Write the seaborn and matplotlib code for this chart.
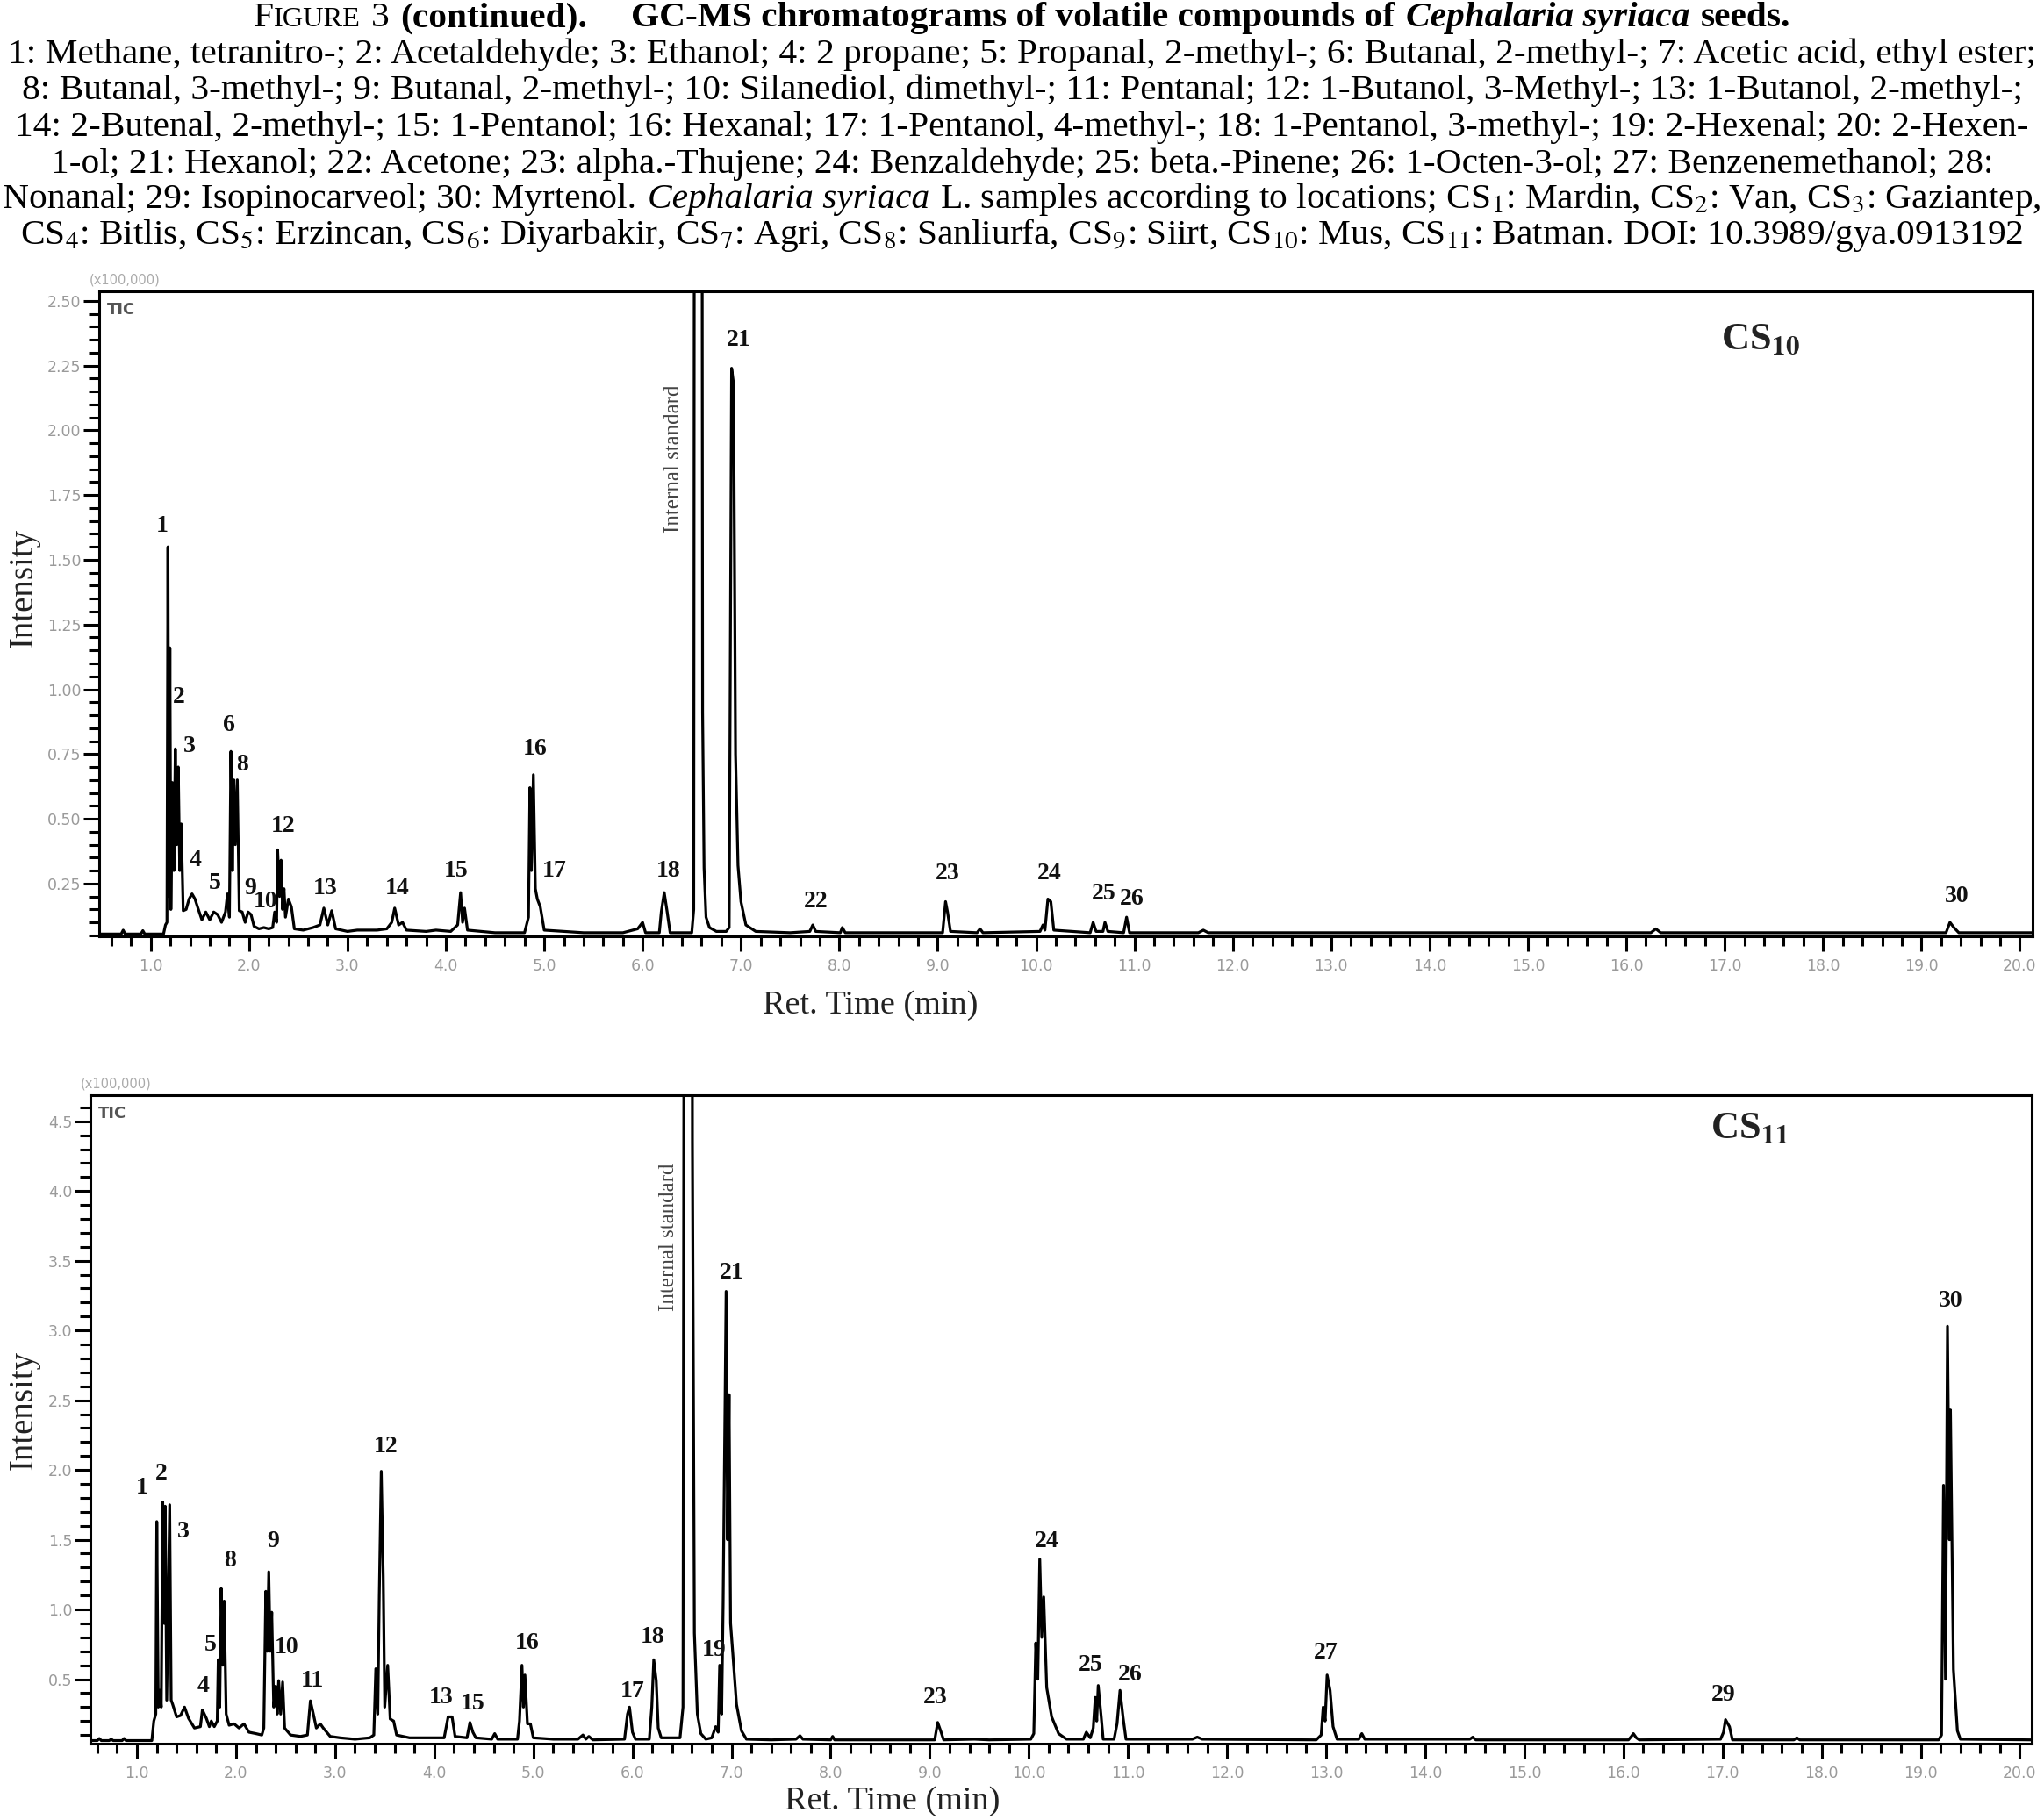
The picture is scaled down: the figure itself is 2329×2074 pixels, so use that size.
import matplotlib
matplotlib.use("Agg")
import matplotlib.pyplot as plt
import pandas as pd
import seaborn as sns
from matplotlib.ticker import MultipleLocator, FormatStrFormatter

# ---- data (intensity in x100,000) ----
# CS10 (Mus) trace: retention time (min) and intensity
cs10_rt = [0.48, 0.70, 0.72, 0.74, 0.90, 0.92, 0.94, 1.13, 1.15, 1.165, 1.175, 1.185,
           1.195, 1.205, 1.22, 1.235, 1.25, 1.265, 1.28, 1.295, 1.31, 1.33, 1.36, 1.39,
           1.42, 1.45, 1.48, 1.52, 1.56, 1.60, 1.64, 1.68, 1.72, 1.76, 1.78, 1.80,
           1.815, 1.83, 1.845, 1.86, 1.88, 1.90, 1.93, 1.96, 1.99, 2.02, 2.05, 2.10,
           2.15, 2.20, 2.24, 2.26, 2.28, 2.29, 2.31, 2.325, 2.34, 2.355, 2.37, 2.40,
           2.43, 2.46, 2.55, 2.65, 2.72, 2.76, 2.80, 2.84, 2.88, 3.00, 3.10, 3.30,
           3.40, 3.45, 3.48, 3.52, 3.56, 3.60, 3.80, 3.90, 4.05, 4.12, 4.15, 4.17,
           4.19, 4.22, 4.50, 4.80, 4.84, 4.855, 4.87, 4.89, 4.91, 4.93, 4.96, 5.00,
           5.20, 5.40, 5.80, 5.95, 6.00, 6.03, 6.17, 6.19, 6.22, 6.25, 6.28, 6.50,
           6.52, 6.53, 6.60, 6.61, 6.625, 6.645, 6.68, 6.75, 6.85, 6.88, 6.905, 6.925,
           6.945, 6.97, 7.00, 7.05, 7.15, 7.50, 7.70, 7.73, 7.76, 8.01, 8.03, 8.06,
           9.05, 9.08, 9.10, 9.13, 9.40, 9.43, 9.46, 10.04, 10.07, 10.09, 10.12, 10.15,
           10.18, 10.55, 10.58, 10.61, 10.68, 10.70, 10.73, 10.89, 10.92, 10.95, 11.65, 11.70,
           11.75, 16.25, 16.30, 16.35, 19.25, 19.29, 19.33, 19.38, 20.13]
cs10_int = [0.055, 0.055, 0.07, 0.055, 0.055, 0.068, 0.055, 0.055, 0.09, 0.10, 1.55, 0.20,
            1.16, 0.15, 0.64, 0.30, 0.77, 0.40, 0.70, 0.30, 0.48, 0.145, 0.15, 0.19,
            0.21, 0.19, 0.155, 0.11, 0.14, 0.11, 0.14, 0.13, 0.10, 0.14, 0.21, 0.12,
            0.76, 0.30, 0.65, 0.40, 0.65, 0.145, 0.14, 0.10, 0.14, 0.13, 0.085, 0.075,
            0.08, 0.075, 0.08, 0.14, 0.10, 0.38, 0.20, 0.34, 0.15, 0.23, 0.12, 0.19,
            0.16, 0.075, 0.07, 0.08, 0.09, 0.155, 0.09, 0.145, 0.075, 0.065, 0.07, 0.07,
            0.075, 0.10, 0.155, 0.09, 0.10, 0.07, 0.065, 0.07, 0.065, 0.09, 0.215, 0.10,
            0.155, 0.07, 0.06, 0.06, 0.12, 0.62, 0.30, 0.67, 0.23, 0.19, 0.16, 0.07,
            0.065, 0.06, 0.06, 0.075, 0.10, 0.06, 0.06, 0.14, 0.215, 0.14, 0.06, 0.06,
            0.15, 5.0, 5.0, 0.91, 0.31, 0.12, 0.08, 0.065, 0.065, 0.08, 2.24, 2.18,
            0.75, 0.32, 0.18, 0.09, 0.065, 0.06, 0.065, 0.09, 0.065, 0.06, 0.08, 0.06,
            0.06, 0.18, 0.14, 0.065, 0.06, 0.075, 0.06, 0.065, 0.09, 0.07, 0.19, 0.18,
            0.07, 0.06, 0.10, 0.065, 0.065, 0.10, 0.065, 0.06, 0.12, 0.06, 0.06, 0.07,
            0.06, 0.06, 0.075, 0.06, 0.06, 0.10, 0.08, 0.06, 0.06]

# CS10 identified peaks (compound number, apex time, apex intensity)
cs10_peak_no = ["1", "2", "3", "4", "5", "6", "8", "9", "10", "12", "13", "14",
                "15", "16", "17", "18", "21", "22", "23", "24", "25", "26", "30"]
cs10_peak_rt = [1.175, 1.195, 1.25, 1.42, 1.64, 1.815, 1.88, 1.99, 2.15, 2.29, 2.76, 3.48,
                4.15, 4.89, 4.96, 6.22, 6.905, 7.73, 9.08, 10.12, 10.70, 10.92, 19.29]
cs10_peak_int = [1.55, 1.16, 0.77, 0.21, 0.14, 0.76, 0.65, 0.14, 0.08, 0.38, 0.155, 0.155,
                 0.215, 0.67, 0.16, 0.215, 2.24, 0.09, 0.18, 0.19, 0.10, 0.12, 0.10]

# CS11 (Batman) trace
cs11_rt = [0.53, 0.60, 0.62, 0.64, 0.72, 0.74, 0.76, 0.85, 0.87, 0.89, 1.15, 1.17,
           1.19, 1.20, 1.215, 1.23, 1.245, 1.26, 1.275, 1.285, 1.30, 1.33, 1.345, 1.36,
           1.40, 1.44, 1.48, 1.52, 1.58, 1.64, 1.66, 1.70, 1.73, 1.75, 1.78, 1.81,
           1.82, 1.835, 1.85, 1.865, 1.88, 1.90, 1.93, 1.98, 2.03, 2.08, 2.13, 2.20,
           2.26, 2.28, 2.30, 2.315, 2.33, 2.345, 2.36, 2.38, 2.40, 2.415, 2.43, 2.45,
           2.47, 2.49, 2.55, 2.65, 2.72, 2.75, 2.78, 2.81, 2.85, 2.88, 2.95, 3.05,
           3.20, 3.35, 3.39, 3.41, 3.43, 3.445, 3.465, 3.485, 3.50, 3.53, 3.555, 3.59,
           3.62, 3.75, 3.90, 4.10, 4.14, 4.18, 4.21, 4.33, 4.36, 4.39, 4.42, 4.58,
           4.61, 4.64, 4.84, 4.86, 4.885, 4.90, 4.915, 4.94, 4.97, 5.00, 5.20, 5.45,
           5.50, 5.53, 5.56, 5.60, 5.92, 5.95, 5.97, 6.00, 6.03, 6.17, 6.195, 6.215,
           6.24, 6.26, 6.29, 6.48, 6.51, 6.525, 6.60, 6.605, 6.625, 6.655, 6.69, 6.74,
           6.80, 6.84, 6.865, 6.88, 6.90, 6.915, 6.945, 6.96, 6.975, 6.99, 7.01, 7.05,
           7.10, 7.15, 7.40, 7.65, 7.69, 7.72, 8.00, 8.02, 8.04, 8.60, 9.05, 9.08,
           9.11, 9.14, 9.45, 9.60, 10.02, 10.05, 10.07, 10.09, 10.11, 10.13, 10.15, 10.18,
           10.23, 10.30, 10.38, 10.55, 10.58, 10.62, 10.65, 10.67, 10.685, 10.70, 10.73, 10.75,
           10.86, 10.89, 10.92, 10.95, 10.98, 11.65, 11.70, 11.75, 12.90, 12.95, 12.97, 12.99,
           13.01, 13.04, 13.07, 13.11, 13.33, 13.36, 13.39, 14.45, 14.48, 14.51, 16.05, 16.08,
           16.10, 16.13, 16.16, 16.98, 17.01, 17.03, 17.07, 17.10, 17.72, 17.75, 17.78, 19.18,
           19.21, 19.23, 19.25, 19.27, 19.29, 19.30, 19.33, 19.37, 19.40, 20.12]
cs11_int = [0.06, 0.06, 0.075, 0.06, 0.06, 0.07, 0.06, 0.06, 0.075, 0.06, 0.06, 0.20,
            0.25, 1.63, 0.30, 0.42, 0.30, 1.77, 0.90, 1.74, 0.35, 1.75, 0.35, 0.32,
            0.23, 0.24, 0.30, 0.22, 0.15, 0.16, 0.28, 0.22, 0.16, 0.20, 0.16, 0.20,
            0.64, 0.30, 1.15, 0.60, 1.06, 0.25, 0.17, 0.18, 0.15, 0.18, 0.12, 0.11,
            0.10, 0.15, 1.13, 0.70, 1.27, 0.70, 0.98, 0.30, 0.45, 0.25, 0.49, 0.25,
            0.48, 0.15, 0.10, 0.09, 0.10, 0.345, 0.25, 0.15, 0.18, 0.15, 0.09, 0.08,
            0.07, 0.08, 0.10, 0.575, 0.25, 1.10, 1.99, 1.24, 0.30, 0.60, 0.215, 0.20,
            0.10, 0.08, 0.08, 0.08, 0.23, 0.23, 0.09, 0.08, 0.19, 0.12, 0.08, 0.07,
            0.11, 0.07, 0.07, 0.20, 0.60, 0.30, 0.53, 0.18, 0.18, 0.08, 0.07, 0.07,
            0.10, 0.07, 0.09, 0.065, 0.07, 0.25, 0.30, 0.12, 0.07, 0.07, 0.30, 0.64,
            0.49, 0.15, 0.08, 0.08, 0.30, 8.0, 8.0, 4.35, 0.83, 0.25, 0.11, 0.07,
            0.08, 0.16, 0.12, 0.60, 0.25, 1.05, 3.28, 1.50, 2.54, 0.90, 0.71, 0.32,
            0.13, 0.07, 0.065, 0.07, 0.095, 0.07, 0.065, 0.09, 0.065, 0.065, 0.065, 0.19,
            0.13, 0.065, 0.07, 0.065, 0.07, 0.11, 0.76, 0.50, 1.36, 0.80, 1.09, 0.44,
            0.23, 0.11, 0.07, 0.07, 0.12, 0.08, 0.15, 0.37, 0.20, 0.455, 0.23, 0.07,
            0.07, 0.18, 0.42, 0.23, 0.07, 0.07, 0.085, 0.07, 0.065, 0.10, 0.30, 0.20,
            0.53, 0.42, 0.16, 0.07, 0.07, 0.11, 0.07, 0.07, 0.085, 0.065, 0.065, 0.09,
            0.11, 0.08, 0.065, 0.07, 0.12, 0.21, 0.16, 0.065, 0.065, 0.08, 0.065, 0.065,
            0.10, 1.89, 0.50, 3.03, 1.50, 2.43, 0.57, 0.13, 0.07, 0.065]

cs11_peak_no = ["1", "2", "3", "4", "5", "8", "9", "10", "11", "12", "13", "15",
                "16", "17", "18", "19", "21", "23", "24", "25", "26", "27", "29", "30"]
cs11_peak_rt = [1.20, 1.26, 1.33, 1.66, 1.82, 1.85, 2.33, 2.43, 2.75, 3.465, 4.16, 4.36,
                4.885, 5.97, 6.215, 6.88, 6.945, 9.08, 10.11, 10.70, 10.92, 13.01, 17.03, 19.27]
cs11_peak_int = [1.63, 1.77, 1.75, 0.28, 0.64, 1.15, 1.27, 0.49, 0.345, 1.99, 0.23, 0.19,
                 0.60, 0.30, 0.64, 0.60, 3.28, 0.19, 1.36, 0.455, 0.42, 0.53, 0.21, 3.03]

caption_lines = [
    "1: Methane, tetranitro-; 2: Acetaldehyde; 3: Ethanol; 4: 2 propane; 5: Propanal, 2-methyl-; 6: Butanal, 2-methyl-; 7: Acetic acid, ethyl ester;",
    "8: Butanal, 3-methyl-; 9: Butanal, 2-methyl-; 10: Silanediol, dimethyl-; 11: Pentanal; 12: 1-Butanol, 3-Methyl-; 13: 1-Butanol, 2-methyl-;",
    "14: 2-Butenal, 2-methyl-; 15: 1-Pentanol; 16: Hexanal; 17: 1-Pentanol, 4-methyl-; 18: 1-Pentanol, 3-methyl-; 19: 2-Hexenal; 20: 2-Hexen-",
    "1-ol; 21: Hexanol; 22: Acetone; 23: alpha.-Thujene; 24: Benzaldehyde; 25: beta.-Pinene; 26: 1-Octen-3-ol; 27: Benzenemethanol; 28:",
]

# ---- layout / style ----
W, H, DPI = 2329, 2074, 100
SERIF = ["Liberation Serif", "DejaVu Serif"]
TICK_GREY = "#9a9a9a"

sns.set_theme(style="ticks")
plt.rcParams["font.family"] = ["DejaVu Sans"]
plt.rcParams["mathtext.fontset"] = "stix"

fig = plt.figure(figsize=(W / DPI, H / DPI), dpi=DPI)
renderer = fig.canvas.get_renderer()

# label nudges (dx in min, dy in intensity) relative to the peak apex
cs10_nudge = {"1": (-0.055, 0.08), "2": (0.095, -0.19), "3": (0.14, 0.01), "4": (0.03, 0.13),
              "5": (0.01, 0.11), "6": (-0.015, 0.10), "8": (0.05, 0.06), "9": (0.025, 0.09),
              "10": (0.02, 0.10), "12": (0.06, 0.09), "13": (0.01, 0.075), "14": (0.03, 0.075),
              "15": (-0.05, 0.085), "16": (0.02, 0.10), "17": (0.14, 0.14), "18": (0.04, 0.085),
              "21": (0.075, 0.11), "22": (0.03, 0.09), "23": (0.02, 0.11), "24": (0.02, 0.10),
              "25": (-0.01, 0.11), "26": (0.05, 0.07), "30": (0.07, 0.10)}
cs11_nudge = {"1": (-0.15, 0.24), "2": (-0.015, 0.20), "3": (0.14, -0.19), "4": (0.01, 0.17),
              "5": (-0.08, 0.105), "8": (0.09, 0.20), "9": (0.04, 0.22), "10": (0.08, 0.24),
              "11": (0.02, 0.145), "12": (0.045, 0.18), "13": (-0.09, 0.14), "15": (0.03, 0.135),
              "16": (0.055, 0.16), "17": (0.03, 0.11), "18": (-0.015, 0.16), "19": (-0.06, 0.11),
              "21": (0.055, 0.13), "23": (-0.02, 0.18), "24": (0.07, 0.13), "25": (-0.08, 0.145),
              "26": (0.10, 0.11), "27": (-0.01, 0.16), "29": (-0.02, 0.18), "30": (0.03, 0.18)}


def draw_panel(ax, rt, inten, peak_no, peak_rt, peak_int, nudge, xlim, ylim,
               ymajor, yminor, yfmt, sample_label, cs_pos, is_pos, xlab_xy, ylab_xy):
    df = pd.DataFrame({"Ret. Time (min)": rt, "Intensity": inten})
    sns.lineplot(data=df, x="Ret. Time (min)", y="Intensity", ax=ax, color="black",
                 linewidth=2.3, sort=False, estimator=None)
    ax.set_xlim(*xlim)
    ax.set_ylim(*ylim)
    ax.xaxis.set_major_locator(MultipleLocator(1.0))
    ax.xaxis.set_minor_locator(MultipleLocator(0.2))
    ax.yaxis.set_major_locator(MultipleLocator(ymajor))
    ax.yaxis.set_minor_locator(MultipleLocator(yminor))
    ax.xaxis.set_major_formatter(FormatStrFormatter("%.1f"))
    ax.yaxis.set_major_formatter(FormatStrFormatter(yfmt))
    ax.tick_params(which="both", direction="out", color="black", top=False, right=False)
    ax.tick_params(axis="x", which="major", length=12, width=2.2, pad=6,
                   labelsize=12.5, labelcolor=TICK_GREY)
    ax.tick_params(axis="x", which="minor", length=8, width=2.2)
    ax.tick_params(axis="y", which="major", length=13, width=2.2, pad=2,
                   labelsize=12.5, labelcolor=TICK_GREY)
    ax.tick_params(axis="y", which="minor", length=9, width=2.2)
    for s in ax.spines.values():
        s.set_linewidth(2.2)
        s.set_color("black")
        s.set_visible(True)

    ax.set_xlabel("Ret. Time (min)", family=SERIF, fontsize=27.5, color="#222222")
    ax.set_ylabel("Intensity", family=SERIF, fontsize=28, color="#222222")
    ax.xaxis.set_label_coords(*xlab_xy)
    ax.yaxis.set_label_coords(*ylab_xy)

    for no, t, h in zip(peak_no, peak_rt, peak_int):
        dx, dy = nudge[no]
        ax.text(t + dx, h + dy, no, ha="center", va="center", family=SERIF,
                fontweight="bold", fontsize=20, color="#111111")

    ax.text(is_pos[0], is_pos[1], "Internal standard", rotation=90, ha="center",
            va="center", family=SERIF, fontsize=18, color="#444444")
    ax.text(cs_pos[0], cs_pos[1], sample_label, ha="center", va="center",
            family=SERIF, fontweight="bold", fontsize=32, color="#222222")
    ax.text(0.004, 0.972, "TIC", transform=ax.transAxes, ha="left", va="center",
            fontsize=13, fontweight="bold", color="#555555")
    ax.text(-0.005, 1.008, "(x100,000)", transform=ax.transAxes, ha="left",
            va="bottom", fontsize=10.5, color="#aaaaaa")


ax_top = fig.add_axes([113 / W, 1 - 1067 / H, (2316 - 113) / W, (1067 - 332) / H])
ax_bot = fig.add_axes([103 / W, 1 - 1987 / H, (2315 - 103) / W, (1987 - 1248) / H])

draw_panel(ax_top, cs10_rt, cs10_int, cs10_peak_no, cs10_peak_rt, cs10_peak_int, cs10_nudge,
           (0.476, 20.13), (0.046, 2.537), 0.25, 0.05, "%.2f",
           r"CS$_{\mathbf{10}}$", (17.36, 2.35), (6.32, 1.89), (0.399, -0.084), (-0.0304, 0.54))
draw_panel(ax_bot, cs11_rt, cs11_int, cs11_peak_no, cs11_peak_rt, cs11_peak_int, cs11_nudge,
           (0.53, 20.12), (0.038, 4.687), 0.5, 0.1, "%.1f",
           r"CS$_{\mathbf{11}}$", (17.27, 4.45), (6.37, 3.67), (0.413, -0.065), (-0.0258, 0.514))

# ---- caption ----
probe = fig.text(0, 0, caption_lines[0], fontsize=27, family=SERIF)
cap_size = 27 * 2312 / probe.get_window_extent(renderer).width
probe.remove()


def put_caption(y_base, parts):
    objs, widths, gaps = [], [], []
    for text, weight, style, scale, gap in parts:
        o = fig.text(0, 1 - y_base / H, text, fontsize=cap_size * scale, fontweight=weight,
                     fontstyle=style, family=SERIF, ha="left", va="baseline", color="black")
        objs.append(o)
        widths.append(o.get_window_extent(renderer).width)
        gaps.append(gap * 0.3 * cap_size * DPI / 72)
    x = (W - sum(widths) - sum(gaps[:-1])) / 2
    for o, w, g in zip(objs, widths, gaps):
        o.set_x(x / W)
        x += w + g


put_caption(30, [("F", "normal", "normal", 1.0, 0), ("IGURE", "normal", "normal", 0.78, 1),
                 ("3", "normal", "normal", 1.0, 1), ("(continued).", "bold", "normal", 1.0, 4),
                 ("GC-MS chromatograms of volatile compounds of", "bold", "normal", 1.0, 1),
                 ("Cephalaria syriaca", "bold", "italic", 1.0, 1), ("seeds.", "bold", "normal", 1.0, 0)])
for yb, line in zip([72, 113, 155, 197], caption_lines):
    put_caption(yb, [(line, "normal", "normal", 1.0, 0)])
put_caption(237, [("Nonanal; 29: Isopinocarveol; 30: Myrtenol.", "normal", "normal", 1.0, 1),
                  ("Cephalaria syriaca", "normal", "italic", 1.0, 1),
                  (r"L. samples according to locations; CS$_{\mathrm{1}}$: Mardin, CS$_{\mathrm{2}}$: Van, "
                   r"CS$_{\mathrm{3}}$: Gaziantep,", "normal", "normal", 1.0, 0)])
put_caption(278, [(r"CS$_{\mathrm{4}}$: Bitlis, CS$_{\mathrm{5}}$: Erzincan, CS$_{\mathrm{6}}$: Diyarbakir, "
                   r"CS$_{\mathrm{7}}$: Agri, CS$_{\mathrm{8}}$: Sanliurfa, CS$_{\mathrm{9}}$: Siirt, "
                   r"CS$_{\mathrm{10}}$: Mus, CS$_{\mathrm{11}}$: Batman. DOI: 10.3989/gya.0913192",
                   "normal", "normal", 1.0, 0)])

fig.savefig("out.png", dpi=DPI, facecolor="white")
